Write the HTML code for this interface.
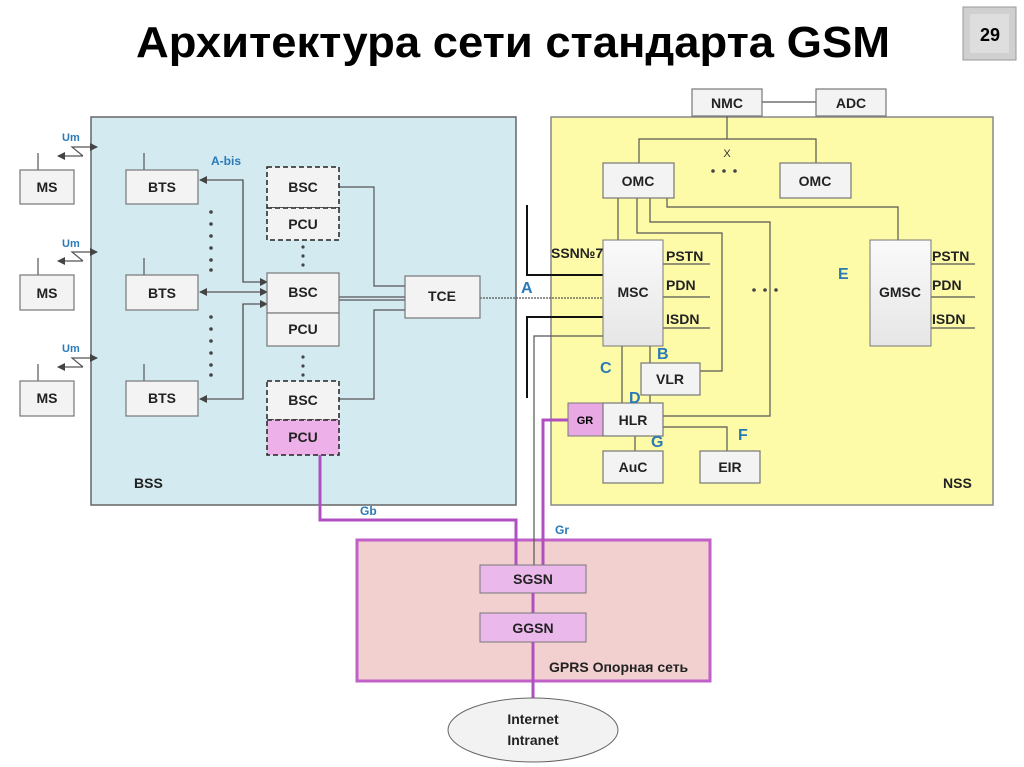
<!DOCTYPE html>
<html><head><meta charset="utf-8"><style>
html,body{margin:0;padding:0;background:#fff;}
svg{display:block;font-family:"Liberation Sans",sans-serif;}
.b{fill:#f3f3f3;stroke:#777;stroke-width:1.2;}
.t{font-size:14px;font-weight:bold;fill:#222;text-anchor:middle;}
.l{font-size:14px;font-weight:bold;fill:#222;}
.bl{fill:#2a7ab8;font-weight:bold;}
.ln{stroke:#555;stroke-width:1.2;fill:none;}
.pk{stroke:#b050c0;stroke-width:3;fill:none;}
</style></head><body>
<svg width="1024" height="767" viewBox="0 0 1024 767">
<defs>
<marker id="ar" markerWidth="8" markerHeight="8" refX="7" refY="4" orient="auto" markerUnits="userSpaceOnUse"><path d="M0,0 L8,4 L0,8 z" fill="#444"/></marker>
<linearGradient id="g" x1="0" y1="0" x2="0" y2="1"><stop offset="0" stop-color="#fafafa"/><stop offset="1" stop-color="#e6e6e6"/></linearGradient>
</defs>
<text x="513" y="57" font-size="44" font-weight="bold" text-anchor="middle" textLength="754" lengthAdjust="spacingAndGlyphs" fill="#000">Архитектура сети стандарта GSM</text>
<rect x="963" y="7" width="53" height="53" fill="#d0d0d0" stroke="#999"/>
<rect x="970" y="14" width="39" height="39" fill="#dedede"/>
<text x="990" y="41" font-size="18" font-weight="bold" text-anchor="middle">29</text>

<rect x="91" y="117" width="425" height="388" fill="#d2eaf0" stroke="#666" stroke-width="1.5"/>
<rect x="551" y="117" width="442" height="388" fill="#fdfba8" stroke="#888" stroke-width="1.5"/>
<rect x="357" y="540" width="353" height="141" fill="#f2d0d0" stroke="#c060c8" stroke-width="3"/>

<!-- MS / BTS -->
<g>
<line class="ln" x1="38" y1="153" x2="38" y2="170"/><rect class="b" x="20" y="170" width="54" height="34"/><text class="t" x="47" y="192">MS</text>
<line class="ln" x1="38" y1="258" x2="38" y2="275"/><rect class="b" x="20" y="275" width="54" height="35"/><text class="t" x="47" y="298">MS</text>
<line class="ln" x1="38" y1="364" x2="38" y2="381"/><rect class="b" x="20" y="381" width="54" height="35"/><text class="t" x="47" y="403">MS</text>
<line class="ln" x1="144" y1="153" x2="144" y2="170"/><rect class="b" x="126" y="170" width="72" height="34"/><text class="t" x="162" y="192">BTS</text>
<line class="ln" x1="144" y1="258" x2="144" y2="275"/><rect class="b" x="126" y="275" width="72" height="35"/><text class="t" x="162" y="298">BTS</text>
<line class="ln" x1="144" y1="364" x2="144" y2="381"/><rect class="b" x="126" y="381" width="72" height="35"/><text class="t" x="162" y="403">BTS</text>
</g>
<g font-size="11">
<text class="bl" x="62" y="141">Um</text><text class="bl" x="62" y="247">Um</text><text class="bl" x="62" y="352">Um</text>
<text class="bl" x="211" y="165" font-size="12">A-bis</text>
</g>
<g class="ln">
<path d="M83,156 L72,147 L97,147" marker-end="url(#ar)"/><path d="M83,156 L58,156" marker-end="url(#ar)"/>
<path d="M83,261 L72,252 L97,252" marker-end="url(#ar)"/><path d="M83,261 L58,261" marker-end="url(#ar)"/>
<path d="M83,367 L72,358 L97,358" marker-end="url(#ar)"/><path d="M83,367 L58,367" marker-end="url(#ar)"/>
</g>
<!-- dots -->
<g fill="#444">
<circle cx="211" cy="212" r="1.8"/><circle cx="211" cy="224" r="1.8"/><circle cx="211" cy="236" r="1.8"/><circle cx="211" cy="248" r="1.8"/><circle cx="211" cy="260" r="1.8"/><circle cx="211" cy="270" r="1.8"/>
<circle cx="211" cy="317" r="1.8"/><circle cx="211" cy="329" r="1.8"/><circle cx="211" cy="341" r="1.8"/><circle cx="211" cy="353" r="1.8"/><circle cx="211" cy="365" r="1.8"/><circle cx="211" cy="375" r="1.8"/>
<circle cx="303" cy="247" r="1.6"/><circle cx="303" cy="256" r="1.6"/><circle cx="303" cy="265" r="1.6"/>
<circle cx="303" cy="357" r="1.6"/><circle cx="303" cy="366" r="1.6"/><circle cx="303" cy="375" r="1.6"/>
<circle cx="713" cy="171" r="1.8"/><circle cx="724" cy="171" r="1.8"/><circle cx="735" cy="171" r="1.8"/>
<circle cx="754" cy="290" r="1.8"/><circle cx="765" cy="290" r="1.8"/><circle cx="776" cy="290" r="1.8"/>
</g>
<!-- BTS-BSC arrows -->
<g class="ln">
<path d="M243,282 L243,180 L200,180" marker-end="url(#ar)"/><path d="M243,180 L243,282 L267,282" marker-end="url(#ar)"/>
<path d="M230,292 L200,292" marker-end="url(#ar)"/><path d="M230,292 L267,292" marker-end="url(#ar)"/>
<path d="M243,304 L243,399 L200,399" marker-end="url(#ar)"/><path d="M243,399 L243,304 L267,304" marker-end="url(#ar)"/>
<path d="M339,187 L374,187 L374,286 L405,286"/>
<path d="M339,300 L405,300"/><path d="M339,297 L405,297"/>
<path d="M339,399 L374,399 L374,310 L405,310"/>
<path d="M480,298 L604,298" stroke-dasharray="2,1"/>
</g>
<!-- BSC stacks -->
<rect x="267" y="167" width="72" height="41" fill="#f3f3f3" stroke="#222" stroke-width="1.5" stroke-dasharray="5,3"/><text class="t" x="303" y="192">BSC</text>
<rect x="267" y="208" width="72" height="32" fill="#f3f3f3" stroke="#222" stroke-width="1.5" stroke-dasharray="5,3"/><text class="t" x="303" y="229">PCU</text>
<rect class="b" x="267" y="273" width="72" height="40"/><text class="t" x="303" y="297">BSC</text>
<rect class="b" x="267" y="313" width="72" height="33"/><text class="t" x="303" y="334">PCU</text>
<rect x="267" y="381" width="72" height="39" fill="#f3f3f3" stroke="#222" stroke-width="1.5" stroke-dasharray="5,3"/><text class="t" x="303" y="405">BSC</text>
<rect x="267" y="420" width="72" height="35" fill="#eeb0e8" stroke="#222" stroke-width="1.5" stroke-dasharray="5,3"/><text class="t" x="303" y="442">PCU</text>
<rect class="b" x="405" y="276" width="75" height="42"/><text class="t" x="442" y="301">TCE</text>
<text class="l" x="134" y="488" font-size="13" font-weight="normal">BSS</text>

<!-- NSS -->
<g class="ln">
<path d="M762,102 L816,102"/><path d="M727,116 L727,139"/><path d="M639,163 L639,139 L816,139 L816,163"/>
<path d="M618,198 L618,240"/>
<path d="M637,198 L637,233 L722,233 L722,371 L700,371"/>
<path d="M650,198 L650,222 L770,222 L770,416 L663,416"/>
<path d="M667,198 L667,207 L898,207 L898,240"/>
<path d="M663,264 L710,264 M663,297 L710,297 M663,328 L710,328"/>
<path d="M931,264 L975,264 M931,297 L975,297 M931,328 L975,328"/>
<path d="M622,346 L622,403 M650,346 L650,363 M650,395 L650,403"/>
<path d="M635,436 L635,451 M663,427 L727,427 L727,451"/>
<path d="M604,336 L534,336 L534,565"/>
</g>
<g stroke="#111" stroke-width="2" fill="none">
<path d="M527,205 L527,275 L604,275"/><path d="M604,317 L527,317 L527,398"/>
</g>
<rect class="b" x="692" y="89" width="70" height="27"/><text class="t" x="727" y="108">NMC</text>
<rect class="b" x="816" y="89" width="70" height="27"/><text class="t" x="851" y="108">ADC</text>
<text x="727" y="157" font-size="11" text-anchor="middle" fill="#333">X</text>
<rect class="b" x="603" y="163" width="71" height="35"/><text class="t" x="638" y="186">OMC</text>
<rect class="b" x="780" y="163" width="71" height="35"/><text class="t" x="815" y="186">OMC</text>
<rect x="603" y="240" width="60" height="106" fill="url(#g)" stroke="#777"/><text class="t" x="633" y="297">MSC</text>
<rect x="870" y="240" width="61" height="106" fill="url(#g)" stroke="#777"/><text class="t" x="900" y="297">GMSC</text>
<g class="l" font-size="13"><text x="666" y="261">PSTN</text><text x="666" y="290">PDN</text><text x="666" y="324">ISDN</text>
<text x="932" y="261">PSTN</text><text x="932" y="290">PDN</text><text x="932" y="324">ISDN</text>
<text x="551" y="258">SSN№7</text></g>
<rect class="b" x="641" y="363" width="59" height="32"/><text class="t" x="670" y="384">VLR</text>
<rect x="568" y="403" width="35" height="33" fill="#e8a8e4" stroke="#777"/><text x="585" y="424" font-size="11" font-weight="bold" text-anchor="middle">GR</text>
<rect class="b" x="603" y="403" width="60" height="33"/><text class="t" x="633" y="425">HLR</text>
<rect class="b" x="603" y="451" width="60" height="32"/><text class="t" x="633" y="472">AuC</text>
<rect class="b" x="700" y="451" width="60" height="32"/><text class="t" x="730" y="472">EIR</text>
<g class="bl" font-size="16">
<text x="521" y="293">A</text><text x="657" y="359">B</text><text x="600" y="373">C</text><text x="629" y="403">D</text><text x="838" y="279">E</text><text x="738" y="440">F</text><text x="651" y="447">G</text>
</g>
<text class="l" x="943" y="488" font-size="13" font-weight="normal">NSS</text>

<!-- GPRS -->
<path class="pk" d="M320,455 L320,520 L516,520 L516,565"/>
<path class="pk" d="M568,420 L543,420 L543,565"/>
<text class="bl" x="360" y="515" font-size="12">Gb</text>
<text class="bl" x="555" y="534" font-size="12">Gr</text>
<rect x="480" y="565" width="106" height="28" fill="#eab8ea" stroke="#777"/><text class="t" x="533" y="584">SGSN</text>
<line x1="533" y1="593" x2="533" y2="613" stroke="#b050c0" stroke-width="3"/>
<rect x="480" y="613" width="106" height="29" fill="#eab8ea" stroke="#777"/><text class="t" x="533" y="633">GGSN</text>
<line x1="533" y1="642" x2="533" y2="698" stroke="#b050c0" stroke-width="3"/>
<text class="l" x="549" y="672" font-size="13">GPRS Опорная сеть</text>
<ellipse cx="533" cy="730" rx="85" ry="32" fill="#f2f2f2" stroke="#666"/>
<text class="t" x="533" y="724" font-size="13">Internet</text><text class="t" x="533" y="745" font-size="13">Intranet</text>
</svg>
</body></html>
